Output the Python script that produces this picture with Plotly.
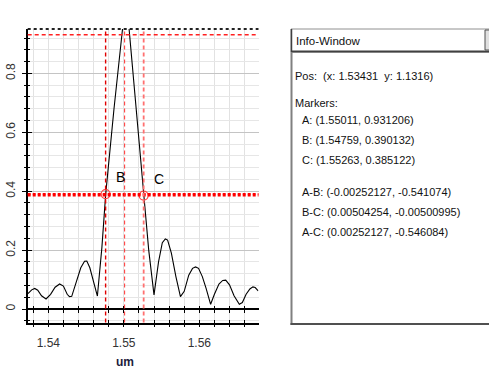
import plotly.graph_objects as go

# ---- data ----
wl = [1.5373, 1.5378, 1.5382, 1.5386, 1.5391, 1.5397, 1.5403, 1.5409, 1.5415, 1.5420,
      1.5425, 1.5428, 1.5431, 1.5437, 1.5443, 1.5448, 1.5451, 1.5455, 1.5460, 1.5465,
      1.5471, 1.5476, 1.5487, 1.5497, 1.5502, 1.5507, 1.5517, 1.5526, 1.5533, 1.5540,
      1.5546, 1.5551, 1.5555, 1.5558, 1.5563, 1.5569, 1.5575, 1.5580, 1.5586, 1.5591,
      1.5595, 1.5599, 1.5604, 1.5609, 1.5615, 1.5620, 1.5626, 1.5631, 1.5635, 1.5640,
      1.5646, 1.5653, 1.5657, 1.5662, 1.5667, 1.5671, 1.5674, 1.5678]
power = [0.052, 0.065, 0.070, 0.064, 0.045, 0.034, 0.050, 0.074, 0.085, 0.078,
         0.050, 0.042, 0.043, 0.095, 0.140, 0.162, 0.163, 0.140, 0.090, 0.044,
         0.210, 0.390, 0.680, 0.924, 1.040, 0.951, 0.660, 0.385, 0.200, 0.048,
         0.160, 0.225, 0.238, 0.234, 0.190, 0.110, 0.042, 0.060, 0.115, 0.138,
         0.143, 0.138, 0.110, 0.070, 0.016, 0.050, 0.085, 0.097, 0.098, 0.082,
         0.045, 0.016, 0.022, 0.050, 0.068, 0.075, 0.073, 0.062]

marker_names = ["A", "B", "C"]
marker_x = [1.55011, 1.54759, 1.55263]
marker_y = [0.931206, 0.390132, 0.385122]

x_ticks = [1.54, 1.55, 1.56]
y_ticks = [0, 0.2, 0.4, 0.6, 0.8]

info_lines = [
    "Pos:  (x: 1.53431  y: 1.1316)",
    "Markers:",
    "A: (1.55011, 0.931206)",
    "B: (1.54759, 0.390132)",
    "C: (1.55263, 0.385122)",
    "A-B: (-0.00252127, -0.541074)",
    "B-C: (0.00504254, -0.00500995)",
    "A-C: (0.00252127, -0.546084)",
]
info_line_px = [76, 103, 120, 140, 160, 192, 212, 232]
info_indent = [293, 293, 300, 300, 300, 300, 300, 300]

# ---- layout geometry ----
W, H = 489, 373
xdom = [27.7 / W, 258.5 / W]
ydom = [1 - 322.5 / H, 1 - 29 / H]
xr = [1.53727, 1.56784]
yr = [-0.0458, 0.9508]
zero_pos = ydom[0] + (0 - yr[0]) / (yr[1] - yr[0]) * (ydom[1] - ydom[0])

FONT = "Liberation Sans, Arial"

fig = go.Figure()
fig.add_trace(go.Scatter(x=wl, y=power, mode="lines",
                         line=dict(color="black", width=1.1),
                         showlegend=False, hoverinfo="skip"))
# marker circles at B and C
fig.add_trace(go.Scatter(x=marker_x[1:], y=marker_y[1:], mode="markers",
                         marker=dict(symbol="circle-open", size=9,
                                     color="#ff4040", line=dict(width=1.2)),
                         showlegend=False, hoverinfo="skip"))
# dummy traces for overlay axes
for ax in ["x2", "x3", "x4"]:
    fig.add_trace(go.Scatter(x=[xr[0]], y=[yr[0]], xaxis=ax, yaxis="y",
                             mode="markers", marker=dict(opacity=0),
                             showlegend=False, hoverinfo="skip"))
fig.add_trace(go.Scatter(x=[xr[0]], y=[yr[0]], xaxis="x", yaxis="y2",
                         mode="markers", marker=dict(opacity=0),
                         showlegend=False, hoverinfo="skip"))

shapes = []
# top dotted border
shapes.append(dict(type="line", xref="x domain", yref="y domain", x0=0, x1=1, y0=1, y1=1,
                   line=dict(color="#222", width=2, dash="dot")))
# horizontal marker lines
shapes.append(dict(type="line", xref="x domain", yref="y", x0=0, x1=1,
                   y0=marker_y[0], y1=marker_y[0],
                   line=dict(color="#ff2020", width=1.5, dash="4px,3px")))
for yv in marker_y[1:]:
    shapes.append(dict(type="line", xref="x domain", yref="y", x0=0, x1=1, y0=yv, y1=yv,
                       line=dict(color="#ff0000", width=2, dash="3px,2px")))
# vertical marker lines
vcols = ["#ff3030", "#e00000", "#ff7070"]
vwid = [1, 1.4, 1.8]
for xv, c, w in zip(marker_x, vcols, vwid):
    shapes.append(dict(type="line", xref="x", yref="y domain", x0=xv, x1=xv, y0=0, y1=1,
                       line=dict(color=c, width=w, dash="4px,3px")))


def px(x):
    return x / W


def py(y):
    return 1 - y / H


# Info window
shapes.append(dict(type="rect", xref="paper", yref="paper", x0=px(291), x1=px(492),
                   y0=py(52), y1=py(29), line=dict(color="#909090", width=1),
                   fillcolor="white", layer="above"))
shapes.append(dict(type="line", xref="paper", yref="paper", x0=px(291), x1=px(492),
                   y0=py(51.5), y1=py(51.5), line=dict(color="#404040", width=2)))
shapes.append(dict(type="line", xref="paper", yref="paper", x0=px(291.5), x1=px(291.5),
                   y0=py(52), y1=py(29), line=dict(color="#404040", width=1.5)))
shapes.append(dict(type="rect", xref="paper", yref="paper", x0=px(485), x1=px(492),
                   y0=py(50), y1=py(30), line=dict(color="#505050", width=1),
                   fillcolor="#e0e0e0"))
shapes.append(dict(type="line", xref="paper", yref="paper", x0=px(291.5), x1=px(291.5),
                   y0=py(325), y1=py(52), line=dict(color="#808080", width=2)))
shapes.append(dict(type="line", xref="paper", yref="paper", x0=px(290.5), x1=px(492),
                   y0=py(324), y1=py(324), line=dict(color="#505050", width=2)))

annotations = []
annotations.append(dict(xref="paper", yref="paper", x=px(294), y=py(41), text="Info-Window",
                        showarrow=False, xanchor="left", yanchor="middle",
                        font=dict(family=FONT, size=11.5, color="#111")))
for t, yy, xx in zip(info_lines, info_line_px, info_indent):
    annotations.append(dict(xref="paper", yref="paper", x=px(xx), y=py(yy), text=t,
                            showarrow=False, xanchor="left", yanchor="middle",
                            font=dict(family=FONT, size=11, color="#111")))
# B, C labels
for n, xv, yv in zip(marker_names[1:], marker_x[1:], marker_y[1:]):
    annotations.append(dict(x=xv, y=yv, xref="x", yref="y", text=n, showarrow=False,
                            xshift=15, yshift=17, font=dict(family=FONT, size=14, color="black")))
# axis title
annotations.append(dict(xref="x", yref="paper", x=1.5501, y=py(362), text="<b>um</b>",
                        showarrow=False, xanchor="center", yanchor="middle",
                        font=dict(family=FONT, size=12, color="#1c1c3c")))

tickfont = dict(family=FONT, size=12, color="#333")
fig.update_layout(
    width=W, height=H, margin=dict(l=0, r=0, t=0, b=0),
    paper_bgcolor="white", plot_bgcolor="white",
    shapes=shapes, annotations=annotations,
    xaxis=dict(domain=xdom, range=xr, tickvals=x_ticks, ticktext=[f"{v:.2f}" for v in x_ticks],
               showgrid=True, gridcolor="#e2e2e2", gridwidth=1,
               minor=dict(dtick=0.002, tick0=1.54, showgrid=True, gridcolor="#e2e2e2",
                          ticks="outside", ticklen=3, tickcolor="black"),
               ticks="outside", ticklen=3, tickcolor="black", ticklabelstandoff=5,
               showline=True, linecolor="black", linewidth=1.5,
               zeroline=False, tickfont=tickfont, automargin=False, fixedrange=True),
    xaxis2=dict(overlaying="x", anchor="y", side="bottom", matches="x", range=xr,
                tickvals=x_ticks, showticklabels=False, showgrid=False, zeroline=False,
                ticks="inside", ticklen=3, tickcolor="black",
                minor=dict(dtick=0.002, tick0=1.54, ticks="inside", ticklen=3, tickcolor="black")),
    xaxis3=dict(overlaying="x", anchor="free", position=zero_pos, matches="x", range=xr,
                tickvals=x_ticks, showticklabels=False, showgrid=False, zeroline=False,
                ticks="outside", ticklen=3, tickcolor="black",
                minor=dict(dtick=0.002, tick0=1.54, ticks="outside", ticklen=3, tickcolor="black")),
    xaxis4=dict(overlaying="x", anchor="free", position=zero_pos, matches="x", range=xr,
                tickvals=x_ticks, showticklabels=False, showgrid=False, zeroline=False,
                ticks="inside", ticklen=3, tickcolor="black",
                minor=dict(dtick=0.002, tick0=1.54, ticks="inside", ticklen=3, tickcolor="black")),
    yaxis=dict(domain=ydom, range=yr, tickvals=y_ticks, ticktext=[f"{v:g}" for v in y_ticks],
               tickangle=-90, showgrid=True, gridcolor="#c4c4c4", gridwidth=1,
               minor=dict(dtick=0.04, tick0=0, showgrid=True, gridcolor="#e6e6e6",
                          ticks="outside", ticklen=2, tickcolor="black"),
               ticks="outside", ticklen=4, tickcolor="black", ticklabelstandoff=2,
               showline=True, linecolor="black", linewidth=1.5,
               zeroline=True, zerolinecolor="black", zerolinewidth=1.5,
               tickfont=tickfont, automargin=False, fixedrange=True),
    yaxis2=dict(overlaying="y", anchor="x", side="left", matches="y", range=yr,
                tickvals=y_ticks, showticklabels=False, showgrid=False, zeroline=False,
                ticks="inside", ticklen=4, tickcolor="black",
                minor=dict(dtick=0.04, tick0=0, ticks="inside", ticklen=2, tickcolor="black")),
)

fig.write_html("out.html", config={"displayModeBar": False},
               post_script="document.body.style.margin='0';")
